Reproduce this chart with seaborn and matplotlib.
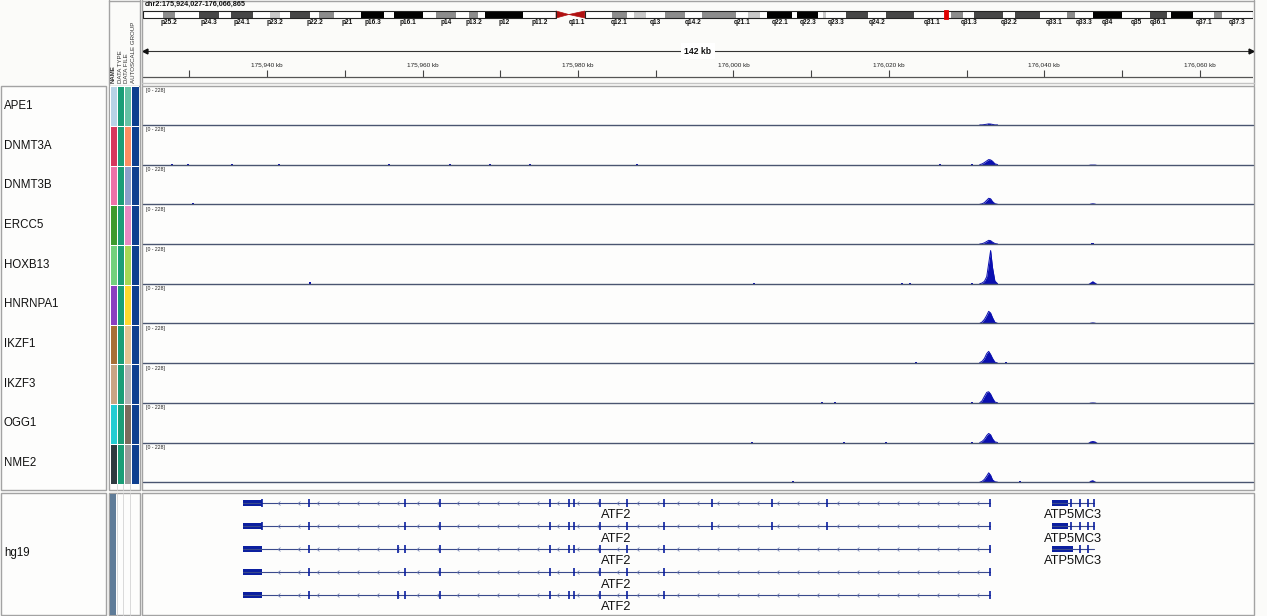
import matplotlib
matplotlib.use("Agg")
import matplotlib.pyplot as plt
from matplotlib.colors import ListedColormap
from matplotlib.patches import Rectangle, Polygon
from matplotlib.path import Path
import numpy as np
import seaborn as sns

W, H = 1267, 616

# ---- view ----------------------------------------------------------------
VIEW_START = 175924.027   # kb
VIEW_END = 176066.865     # kb
LOCUS = "chr2:175,924,027-176,066,865"
SPAN_LABEL = "142 kb"
CHROM_LEN_MB = 243.2
RULER_LABEL_KB = [175940, 175960, 175980, 176000, 176020, 176040, 176060]
RULER_MINOR_KB = [175930, 175950, 175970, 175990, 176010, 176030, 176050]

# ---- cytobands (hg19 chr2) -------------------------------------------------
BAND_NAMES = ["p25.3", "p25.2", "p25.1", "p24.3", "p24.2", "p24.1", "p23.3", "p23.2",
              "p23.1", "p22.3", "p22.2", "p22.1", "p21", "p16.3", "p16.2", "p16.1",
              "p15", "p14", "p13.3", "p13.2", "p13.1", "p12", "p11.2", "p11.1",
              "q11.1", "q11.2", "q12.1", "q12.2", "q12.3", "q13", "q14.1", "q14.2",
              "q14.3", "q21.1", "q21.2", "q21.3", "q22.1", "q22.2", "q22.3", "q23.1",
              "q23.2", "q23.3", "q24.1", "q24.2", "q24.3", "q31.1", "q31.2", "q31.3",
              "q32.1", "q32.2", "q32.3", "q33.1", "q33.2", "q33.3", "q34", "q35",
              "q36.1", "q36.2", "q36.3", "q37.1", "q37.2", "q37.3"]
BAND_START = [0.0, 4.4, 7.1, 12.2, 16.7, 19.2, 24.0, 27.9, 30.0, 32.1, 36.6, 38.6,
              41.8, 47.8, 52.9, 55.0, 61.3, 64.1, 68.6, 71.5, 73.5, 75.0, 83.3, 90.5,
              93.3, 96.8, 102.7, 106.0, 107.5, 110.2, 114.4, 118.8, 122.4, 129.9, 132.5,
              135.1, 136.8, 142.2, 143.4, 147.9, 149.0, 149.6, 154.0, 158.9, 162.9,
              168.9, 177.1, 179.7, 182.1, 188.5, 191.1, 196.6, 202.5, 204.1, 208.2,
              214.5, 220.7, 224.3, 225.2, 230.1, 234.7, 236.4]
BAND_STAIN = ["gneg", "gpos50", "gneg", "gpos75", "gneg", "gpos75", "gneg", "gpos25",
              "gneg", "gpos75", "gneg", "gpos50", "gneg", "gpos100", "gneg", "gpos100",
              "gneg", "gpos50", "gneg", "gpos50", "gneg", "gpos100", "gneg", "acen",
              "acen", "gneg", "gpos50", "gneg", "gpos25", "gneg", "gpos50", "gneg",
              "gpos50", "gneg", "gpos25", "gneg", "gpos100", "gneg", "gpos100", "gneg",
              "gpos25", "gneg", "gpos75", "gneg", "gpos75", "gneg", "gpos50", "gneg",
              "gpos75", "gneg", "gpos75", "gneg", "gpos50", "gneg", "gpos100", "gneg",
              "gpos75", "gneg", "gpos100", "gneg", "gpos50", "gneg"]
LABELED_BANDS = ["p25.2", "p24.3", "p24.1", "p23.2", "p22.2", "p21", "p16.3", "p16.1",
                 "p14", "p13.2", "p12", "p11.2", "q11.1", "q12.1", "q13", "q14.2",
                 "q21.1", "q22.1", "q22.3", "q23.3", "q24.2", "q31.1", "q31.3", "q32.2",
                 "q33.1", "q33.3", "q34", "q35", "q36.1", "q37.1", "q37.3"]
STAIN_COLORS = {"gneg": "#ffffff", "gpos25": "#c8c8c8", "gpos50": "#8c8c8c",
                "gpos75": "#464646", "gpos100": "#000000"}

# ---- coverage tracks -----------------------------------------------------
TRACKS = ["APE1", "DNMT3A", "DNMT3B", "ERCC5", "HOXB13", "HNRNPA1",
          "IKZF1", "IKZF3", "OGG1", "NME2"]
DATA_MAX = 228

NAME_COLORS = ["#b7d3e6", "#d6375d", "#ee72a8", "#3d9b2e", "#72d17c",
               "#8b3fbf", "#a86f36", "#c8a584", "#23cdd3", "#2e3a40"]
TYPE_COLORS = ["#1b9e77"] * 10
FILE_COLORS = ["#66c2a5", "#fc8d62", "#8da0cb", "#e78ac3", "#a6d854",
               "#ffd92f", "#e5c494", "#b3b3b3", "#7a6a5c", "#9a9a9a"]
GROUP_COLORS = ["#0e3f8f"] * 10

MAIN_PEAK_KB = [176031.7, 176032.0, 176032.3, 176032.6, 176032.85,
                176033.1, 176033.35, 176033.65, 176034.0]
MAIN_PEAK_VALUES = [
    [0, 0, 2, 4, 6, 5, 3, 0, 0],
    [0, 4, 12, 22, 30, 28, 20, 5, 0],
    [0, 3, 10, 24, 36, 33, 16, 4, 0],
    [0, 2, 7, 15, 22, 20, 11, 3, 0],
    [0, 4, 14, 42, 120, 198, 95, 16, 0],
    [0, 8, 24, 48, 72, 62, 34, 7, 0],
    [3, 10, 28, 57, 70, 52, 28, 6, 0],
    [0, 12, 38, 62, 66, 52, 28, 5, 0],
    [0, 6, 20, 42, 54, 46, 22, 4, 0],
    [0, 5, 17, 37, 56, 42, 14, 3, 0],
]
SECOND_PEAK_KB = [176045.6, 176045.9, 176046.2, 176046.5, 176046.8]
SECOND_PEAK_VALUES = [
    [0, 0, 0, 0, 0],
    [0, 3, 3, 3, 0],
    [0, 7, 9, 7, 0],
    [0, 3, 3, 3, 0],
    [0, 9, 18, 9, 0],
    [0, 7, 9, 7, 0],
    [0, 3, 3, 3, 0],
    [0, 4, 5, 4, 0],
    [0, 9, 12, 9, 0],
    [0, 11, 15, 7, 0],
]
BLIP_KB = [
    [176033.0],
    [175927.76, 175929.82, 175935.48, 175941.53, 175955.68, 175963.53,
     175968.68, 175973.83, 175987.60, 176026.59, 176030.71],
    [175930.46, 175990.56, 176014.36, 176029.80, 176036.88, 176038.17, 176040.10],
    [176046.2],
    [175945.52, 176002.65, 176021.70, 176022.73, 176030.71],
    [176019.51, 176030.71],
    [176023.50, 176029.54, 176030.06, 176035.08],
    [176011.40, 176013.08, 176030.71],
    [176002.40, 176014.23, 176019.64, 176030.71],
    [175984.12, 175991.58, 176007.67, 176017.32, 176029.42, 176036.88, 176044.35],
]
BLIP_VALUES = [
    [4],
    [5, 5, 4, 5, 4, 3, 4, 5, 3, 4, 4],
    [7, 4, 3, 4, 4, 4, 4],
    [3],
    [9, 5, 4, 4, 4],
    [4, 4],
    [4, 3, 3, 4],
    [3, 3, 4],
    [3, 3, 3, 4],
    [3, 4, 5, 3, 4, 6, 3],
]

# ---- gene annotations (kb) ------------------------------------------------
ATF2_START = 175936.90
ATF2_END = 176033.02
ATF2_UTR_END = 175939.34
ATF2_EXONS = [
    [175939.34, 175945.39, 175957.74, 175962.24, 175976.40, 175978.84, 175979.49,
     175982.83, 175986.30, 175991.06, 175997.24, 176005.0, 176012.0, 176033.02],
    [175939.34, 175945.39, 175957.74, 175962.24, 175976.40, 175978.84, 175979.49,
     175982.83, 175986.30, 175991.06, 175997.24, 176005.0, 176012.0, 176033.02],
    [175945.39, 175956.9, 175957.74, 175962.24, 175976.40, 175978.84, 175979.49,
     175982.83, 175986.30, 175991.06, 176033.02],
    [175945.39, 175957.74, 175962.24, 175976.40, 175979.49, 175982.83, 175986.30,
     175991.06, 176033.02],
    [175945.39, 175956.9, 175957.74, 175962.24, 175976.40, 175978.84, 175979.49,
     175982.83, 175986.30, 175991.06, 176033.02],
]
ATP5_START = 176040.99
ATP5_END = 176046.40
ATP5_UTR_END = [176043.06, 176043.06, 176043.70]
ATP5_EXONS = [
    [176043.5, 176044.6, 176045.6, 176046.4],
    [176043.5, 176044.6, 176045.6, 176046.4],
    [176044.6, 176045.6],
]

# ---- styling -----------------------------------------------------------------
BG = "#fbfbf9"
FRAME = "#a3a3a3"
BLUE = "#0a0fb0"
GENE_BLUE = "#0b1fa0"
GENE_LINE = "#3a4a8c"
BASELINE = "#4a5570"

sns.set_theme(style="white")
plt.rcParams["font.family"] = ["Liberation Sans", "DejaVu Sans"]

fig = plt.figure(figsize=(W / 100, H / 100), dpi=100)
fig.patch.set_facecolor(BG)


def pax(x, y, w, h):
    ax = fig.add_axes([x / W, 1 - (y + h) / H, w / W, h / H])
    ax.set_axis_off()
    ax.patch.set_alpha(0)
    return ax


# ---- frames -------------------------------------------------------------------
frame = pax(0, 0, W, H)
frame.set_xlim(0, W)
frame.set_ylim(H, 0)
for (x0, y0, x1, y1) in [(0.5, 86, 106, 490), (108.5, 86, 139.5, 490), (142, 86, 1254, 490),
                         (0.5, 493, 106, 615), (108.5, 493, 139.5, 615), (142, 493, 1254, 615)]:
    frame.add_patch(Rectangle((x0, y0), x1 - x0, y1 - y0, fill=True, fc="#fdfdfc",
                              ec=FRAME, lw=1.0, zorder=0))
# header frame lines
frame.plot([108.5, 108.5], [0, 85], color=FRAME, lw=1)
frame.plot([139.5, 139.5], [0, 85], color=FRAME, lw=1)
frame.plot([142, 142], [0, 85], color=FRAME, lw=1)
frame.plot([1254, 1254], [0, 85], color=FRAME, lw=1)
frame.plot([142, 1254], [0.5, 0.5], color=FRAME, lw=1)
frame.plot([142, 1254], [82.5, 82.5], color="#c4c4c4", lw=1)
frame.plot([108.5, 139.5], [0.5, 0.5], color=FRAME, lw=1)

# ---- attribute header ---------------------------------------------------------
for i, lab in enumerate(["NAME", "DATA TYPE", "DATA FILE", "AUTOSCALE GROUP"]):
    frame.text(113.5 + 6.7 * i, 83, lab, rotation=90, ha="center", va="bottom",
               fontsize=4.4, color="#333333", fontweight="bold" if i == 0 else "normal")

# ---- ideogram -----------------------------------------------------------------
ideo = pax(143, 8, 1110, 20)
ideo.set_xlim(0, CHROM_LEN_MB)
ideo.set_ylim(20, 0)
band_end = BAND_START[1:] + [CHROM_LEN_MB]
for name, s, e, stain in zip(BAND_NAMES, BAND_START, band_end, BAND_STAIN):
    if stain == "acen":
        if name.startswith("p"):
            pts = [(s, 3), (s, 10), (e, 6.5)]
        else:
            pts = [(e, 3), (e, 10), (s, 6.5)]
        ideo.add_patch(Polygon(pts, closed=True, fc="#b01010", ec="#b01010", lw=0.5))
    else:
        ideo.add_patch(Rectangle((s, 3), e - s, 7, fc=STAIN_COLORS[stain], ec="none"))
    if name in LABELED_BANDS:
        ideo.text((s + e) / 2, 14.3, name, ha="center", va="center", fontsize=4.7,
                  fontweight="bold", color="#111111")
p_end = BAND_START[BAND_NAMES.index("p11.1")]
q_start = BAND_START[BAND_NAMES.index("q11.2")]
ideo.add_patch(Rectangle((0, 3), p_end, 7, fill=False, ec="#222222", lw=0.8))
ideo.add_patch(Rectangle((q_start, 3), CHROM_LEN_MB - q_start, 7, fill=False, ec="#222222", lw=0.8))
mid_mb = (VIEW_START + VIEW_END) / 2 / 1000
ideo.add_patch(Rectangle((mid_mb - 0.45, 2), 0.9, 9, fc="#e00000", ec="#e00000", lw=0.6))
frame.text(145, 4.5, LOCUS, ha="left", va="center", fontsize=5.2, fontweight="bold",
           color="#111111")

# ---- ruler --------------------------------------------------------------------
ruler = pax(143, 40, 1110, 40)
ruler.set_xlim(VIEW_START, VIEW_END)
ruler.set_ylim(40, 0)
ruler.plot([VIEW_START, VIEW_END], [11, 11], color="#333333", lw=0.8)
ruler.plot([VIEW_START + 0.3], [11], marker="<", color="#111111", ms=3.5)
ruler.plot([VIEW_END - 0.3], [11], marker=">", color="#111111", ms=3.5)
ruler.text((VIEW_START + VIEW_END) / 2, 11, SPAN_LABEL, ha="center", va="center",
           fontsize=6.2, fontweight="bold", color="#111111",
           bbox=dict(fc="white", ec="none", pad=2.5))
ticks = sorted(RULER_LABEL_KB + RULER_MINOR_KB)
ruler.vlines(ticks, 30, 37, color="#444444", lw=0.8)
for kb in RULER_LABEL_KB:
    ruler.text(kb, 25, f"{kb:,} kb", ha="center", va="center", fontsize=4.6, color="#222222")
ruler.plot([VIEW_START, VIEW_END], [37.3, 37.3], color="#555555", lw=0.9)

# ---- names + attributes ---------------------------------------------------
TRACK_H = 39.7
for i, name in enumerate(TRACKS):
    frame.text(4, 86 + TRACK_H * (i + 0.5), name, ha="left", va="center",
               fontsize=8.3, color="#111111")
frame.text(4, 553, "hg19", ha="left", va="center", fontsize=8.3, color="#111111")

attr_cols = [NAME_COLORS, TYPE_COLORS, FILE_COLORS, GROUP_COLORS]
palette = []
for col in attr_cols:
    for c in col:
        if c not in palette:
            palette.append(c)
idx = np.array([[palette.index(col[r]) for col in attr_cols] for r in range(len(TRACKS))])
attr = fig.add_axes([109.5 / W, 1 - 483.5 / H, 29 / W, 397.5 / H])
sns.heatmap(idx, cmap=ListedColormap(palette), vmin=-0.5, vmax=len(palette) - 0.5,
            cbar=False, linewidths=0.7, linecolor="white", ax=attr,
            xticklabels=False, yticklabels=False)
attr.set_axis_off()
for x in [116.6, 123.3, 130.0]:
    frame.plot([x, x], [483.5, 490], color="#d4d4d4", lw=0.6)
    frame.plot([x, x], [493, 615], color="#d4d4d4", lw=0.6)
frame.add_patch(Rectangle((109.5, 494), 6.5, 121, fc="#5f7c98", ec="none"))

# ---- coverage tracks ----------------------------------------------------------
for i, name in enumerate(TRACKS):
    top = 86 + TRACK_H * i
    base = top + TRACK_H - 0.8
    ax = pax(143, base - 38.2, 1110, 38.2)
    ax.set_xlim(VIEW_START, VIEW_END)
    ax.set_ylim(0, DATA_MAX)
    ax.fill_between(MAIN_PEAK_KB, MAIN_PEAK_VALUES[i], color=BLUE, lw=0)
    sns.lineplot(x=MAIN_PEAK_KB, y=MAIN_PEAK_VALUES[i], ax=ax, color=BLUE, lw=0.7)
    ax.fill_between(SECOND_PEAK_KB, SECOND_PEAK_VALUES[i], color=BLUE, lw=0)
    ax.bar(BLIP_KB[i], BLIP_VALUES[i], width=0.35, color=BLUE, lw=0)
    ax.axhline(0, color=BASELINE, lw=1.0, clip_on=False)
    frame.text(146, top + 4.2, f"[0 - {DATA_MAX}]", ha="left", va="center",
               fontsize=3.7, color="#222222")
    ax.set_axis_off()

# ---- gene track ---------------------------------------------------------------
gene = pax(143, 494, 1110, 121)
gene.set_xlim(VIEW_START, VIEW_END)
gene.set_ylim(121, 0)
chevron = Path([(1, 1), (-0.2, 0), (1, -1)], [Path.MOVETO, Path.LINETO, Path.LINETO])
for r, exons in enumerate(ATF2_EXONS):
    y = 9 + 23 * r
    gene.plot([ATF2_START, ATF2_END], [y, y], color=GENE_LINE, lw=0.8)
    arrows = np.arange(ATF2_UTR_END + 2.0, ATF2_END - 1.0, 2.57)
    gene.plot(arrows, [y] * len(arrows), ls="none", marker=chevron, ms=2.8,
              mec="#6070a8", mfc="none", mew=0.5)
    gene.add_patch(Rectangle((ATF2_START, y - 2.6), ATF2_UTR_END - ATF2_START, 5.2,
                             fc=GENE_BLUE, ec="none"))
    gene.vlines(exons, y - 4.2, y + 4.2, color=GENE_BLUE, lw=1.2)
    gene.text((ATF2_START + ATF2_END) / 2, y + 12.5, "ATF2",
              ha="center", va="center", fontsize=9.3, color="#111111")
for r, exons in enumerate(ATP5_EXONS):
    y = 9 + 23 * r
    gene.plot([ATP5_START, ATP5_END], [y, y], color=GENE_LINE, lw=0.8)
    gene.add_patch(Rectangle((ATP5_START, y - 2.6), ATP5_UTR_END[r] - ATP5_START, 5.2,
                             fc=GENE_BLUE, ec="none"))
    gene.vlines(exons, y - 4.2, y + 4.2, color=GENE_BLUE, lw=1.2)
    gene.text((ATP5_START + ATP5_END) / 2, y + 12.5, "ATP5MC3",
              ha="center", va="center", fontsize=9.3, color="#111111")

fig.savefig("out.png", dpi=100, facecolor=BG)
